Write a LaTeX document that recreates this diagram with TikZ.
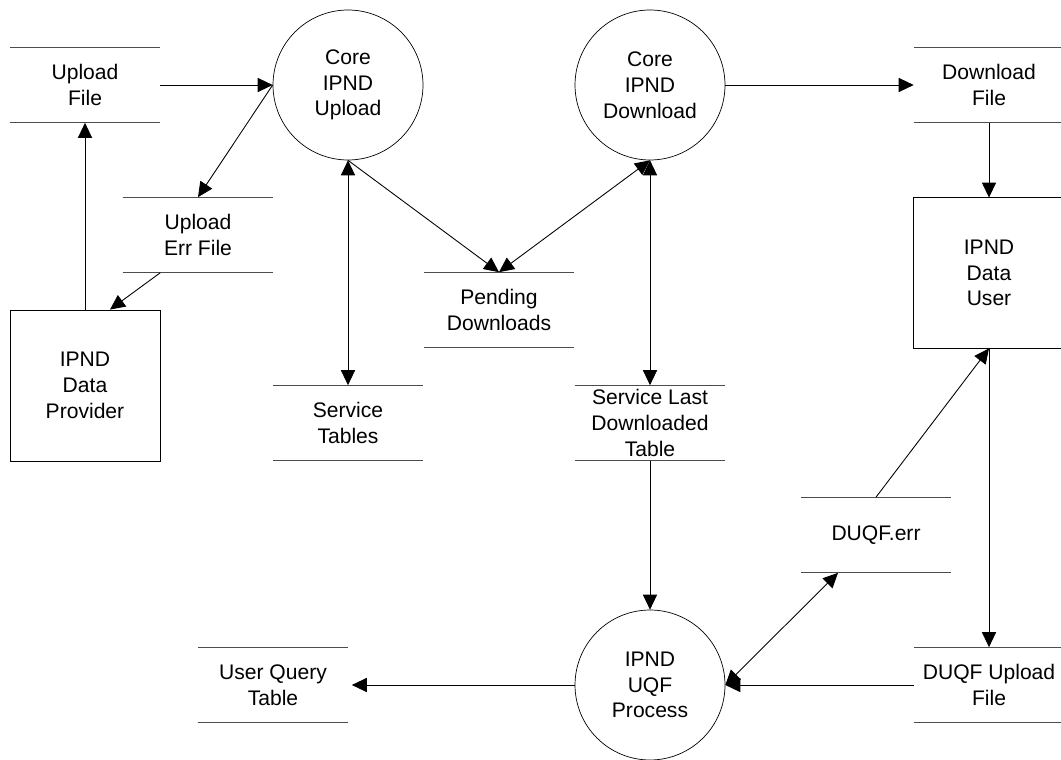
\documentclass[tikz,border=0pt]{standalone}
\usepackage{fontspec}
\setmainfont{Liberation Sans}
\usetikzlibrary{arrows.meta}

\begin{document}
\begin{tikzpicture}[x=0.02cm, y=-0.02cm]
\tikzstyle{store}=[minimum width=3cm, minimum height=1.5cm, inner sep=0pt, align=center, font=\fontsize{12}{14.7}\selectfont]
\tikzstyle{process}=[circle, draw, line width=0.4pt, minimum size=3cm, inner sep=0pt, align=center, font=\fontsize{12}{14.7}\selectfont]
\tikzstyle{entity}=[rectangle, draw, line width=0.5pt, minimum width=3cm, minimum height=3cm, inner sep=0pt, align=center, font=\fontsize{12}{14.7}\selectfont]
\tikzstyle{flow}=[line width=0.5pt, -{Triangle[length=8.5pt, width=8pt]}]
\tikzstyle{both}=[line width=0.5pt, {Triangle[length=8.5pt, width=8pt]}-{Triangle[length=8.5pt, width=8pt]}]

\useasboundingbox (0,0) rectangle (1061,760);

\node[store] (upfile) at (85,85) {Upload\\File};
\node[store] (uperr) at (198,235) {Upload\\Err File};
\node[store] (pending) at (499,310) {Pending\\Downloads};
\node[store] (svctab) at (348,423) {Service\\Tables};
\node[store] (svclast) at (650,423) {Service Last\\Downloaded\\Table};
\node[store] (dlfile) at (989,85) {Download\\File};
\node[store] (duqferr) at (876,535) {DUQF.err};
\node[store] (duqfup) at (989,685) {DUQF Upload\\File};
\node[store] (uqtab) at (273,685) {User Query\\Table};

\foreach \s in {upfile,uperr,pending,svctab,svclast,dlfile,duqferr,duqfup,uqtab} {
\draw[black!70, line width=0.6pt] (\s.north west) -- (\s.north east) (\s.south west) -- (\s.south east);
}

\node[process] (coreup) at (348,85) {Core\\IPND\\Upload};
\node[process] (coredown) at (650,85) {Core\\IPND\\Download};
\node[process] (uqf) at (650,685) {IPND\\UQF\\Process};

\node[entity, minimum height=3.02cm] (prov) at (85,385.5) {IPND\\Data\\Provider};
\node[entity, draw=none] (user) at (989,273) {IPND\\Data\\User};
\draw[line width=0.5pt] (user.north east) -- (user.north west) -- (user.south west) -- (user.south east);

\draw[flow] (upfile.east) -- (coreup.west);
\draw[flow] (coreup.west) -- (uperr.north);
\draw[flow] (prov.north) -- (upfile.south);
\draw[flow] (uperr.225) -- ([xshift=0.5cm]prov.north);
\draw[both] (coreup.south) -- (svctab.north);
\draw[flow] (coreup.south) -- (pending.north);
\draw[both] (coredown.south) -- (pending.north);
\draw[both] (coredown.south) -- (svclast.north);
\draw[flow] (coredown.east) -- (dlfile.west);
\draw[flow] (dlfile.south) -- (user.north);
\draw[flow] (svclast.south) -- (uqf.north);
\draw[flow] (duqferr.north) -- (user.south);
\draw[flow] (user.south) -- (duqfup.north);
\draw[flow] (duqfup.west) -- (uqf.east);
\draw[both] (uqf.east) -- ([xshift=-0.76cm]duqferr.south);
\draw[flow] (uqf.west) -- ([xshift=2pt]uqtab.east);

\end{tikzpicture}
\end{document}
